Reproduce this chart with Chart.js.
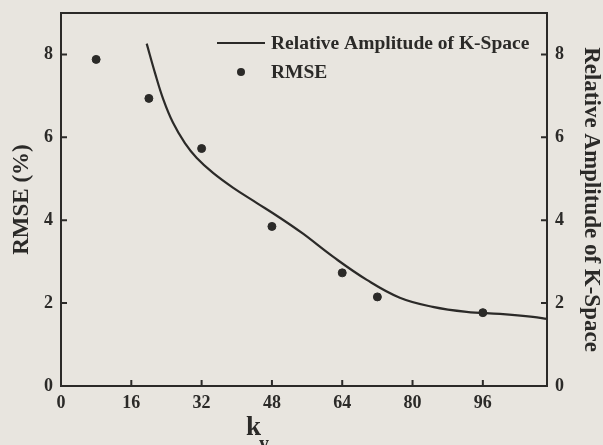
<!DOCTYPE html>
<html>
<head>
<meta charset="utf-8">
<script src="https://cdn.jsdelivr.net/npm/chart.js@4/dist/chart.umd.min.js"></script>
<style>
  body { margin: 0; background: #e8e5df; }
  #wrap { width: 603px; height: 445px; position: relative; }
</style>
</head>
<body>
<div id="wrap"><canvas id="chart"></canvas></div>
<script>
// k_y positions and RMSE (%) values
const rmseK = [8, 20, 32, 48, 64, 72, 96];
const rmseVals = [7.88, 6.94, 5.73, 3.85, 2.73, 2.15, 1.77];

// relative amplitude of k-space curve
const ampK = [19.5, 21.4, 23.3, 25.5, 28.2, 30.9, 34.6, 39.2, 44.5, 49.8, 55.0, 61.9, 69.6, 77.1, 84.6, 92.3, 99.9, 107.4, 110.6];
const ampVals = [8.26, 7.55, 6.91, 6.35, 5.86, 5.50, 5.14, 4.78, 4.42, 4.06, 3.68, 3.12, 2.56, 2.13, 1.91, 1.79, 1.74, 1.67, 1.62];

const xTicks = [0, 16, 32, 48, 64, 80, 96];
const yTicks = [0, 2, 4, 6, 8];

const ink = '#2b2a28';
const serif = '"Liberation Serif", "DejaVu Serif", serif';

// frame, inward ticks, legend and the k_y title
const decor = {
  id: 'decor',
  afterDraw(chart) {
    const { ctx, chartArea: a, scales } = chart;
    ctx.save();
    ctx.strokeStyle = ink;
    ctx.lineWidth = 2;
    ctx.strokeRect(a.left, a.top, a.right - a.left, a.bottom - a.top);
    ctx.beginPath();
    xTicks.forEach(v => {
      const px = scales.x.getPixelForValue(v);
      ctx.moveTo(px, a.bottom); ctx.lineTo(px, a.bottom - 6);
    });
    yTicks.forEach(v => {
      const py = scales.y.getPixelForValue(v);
      ctx.moveTo(a.left, py); ctx.lineTo(a.left + 6, py);
      const py2 = scales.y2.getPixelForValue(v);
      ctx.moveTo(a.right, py2); ctx.lineTo(a.right - 6, py2);
    });
    ctx.stroke();

    // legend
    ctx.lineWidth = 2.2;
    ctx.beginPath();
    ctx.moveTo(217, 43); ctx.lineTo(265, 43);
    ctx.stroke();
    ctx.fillStyle = ink;
    ctx.beginPath();
    ctx.arc(241, 72, 4, 0, Math.PI * 2);
    ctx.fill();
    ctx.font = 'bold 19.5px ' + serif;
    ctx.textBaseline = 'middle';
    ctx.fillText('Relative Amplitude of K-Space', 271, 44);
    ctx.fillText('RMSE', 271, 73);

    // x title k_y
    ctx.textBaseline = 'alphabetic';
    ctx.font = 'bold 27px ' + serif;
    ctx.fillText('k', 246, 435);
    ctx.font = 'bold 20px ' + serif;
    ctx.fillText('y', 259, 450);
    ctx.restore();
  }
};

// fixed axis boxes so the plot area matches the picture
function fixBox(size, horizontal) {
  return s => {
    if (horizontal) s.height = size; else s.width = size;
    s.paddingTop = 0; s.paddingBottom = 0; s.paddingLeft = 0; s.paddingRight = 0;
  };
}

new Chart(document.getElementById('chart'), {
  type: 'scatter',
  data: {
    datasets: [
      {
        label: 'Relative Amplitude of K-Space',
        data: ampK.map((k, i) => ({ x: k, y: ampVals[i] })),
        yAxisID: 'y2',
        showLine: true,
        borderColor: ink,
        borderWidth: 2.2,
        pointRadius: 0,
        tension: 0.4
      },
      {
        label: 'RMSE',
        data: rmseK.map((k, i) => ({ x: k, y: rmseVals[i] })),
        yAxisID: 'y',
        backgroundColor: ink,
        borderColor: ink,
        pointRadius: 4,
        pointHoverRadius: 4
      }
    ]
  },
  options: {
    responsive: true,
    maintainAspectRatio: false,
    animation: false,
    layout: { padding: { top: 13 } },
    plugins: { legend: { display: false }, tooltip: { enabled: false } },
    scales: {
      x: {
        type: 'linear', min: 0, max: 110.6,
        grid: { display: false, drawTicks: false },
        border: { display: false },
        afterBuildTicks: s => { s.ticks = xTicks.map(v => ({ value: v })); },
        afterFit: fixBox(59, true),
        ticks: { color: ink, padding: 7, font: { family: serif, size: 18, weight: 'bold' } }
      },
      y: {
        type: 'linear', position: 'left', min: 0, max: 9,
        grid: { display: false, drawTicks: false },
        border: { display: false },
        afterBuildTicks: s => { s.ticks = yTicks.map(v => ({ value: v })); },
        afterFit: fixBox(61, false),
        ticks: { color: ink, padding: 8, font: { family: serif, size: 18, weight: 'bold' } },
        title: { display: true, text: 'RMSE (%)', color: ink, padding: { top: 8, bottom: 0 }, font: { family: serif, size: 23, weight: 'bold' } }
      },
      y2: {
        type: 'linear', position: 'right', min: 0, max: 9,
        grid: { display: false, drawTicks: false },
        border: { display: false },
        afterBuildTicks: s => { s.ticks = yTicks.map(v => ({ value: v })); },
        afterFit: fixBox(56, false),
        ticks: { color: ink, padding: 8, font: { family: serif, size: 18, weight: 'bold' } },
        title: { display: true, text: 'Relative Amplitude of K-Space', color: ink, padding: { top: -2, bottom: 0 }, font: { family: serif, size: 23, weight: 'bold' } }
      }
    }
  },
  plugins: [decor]
});
</script>
</body>
</html>
